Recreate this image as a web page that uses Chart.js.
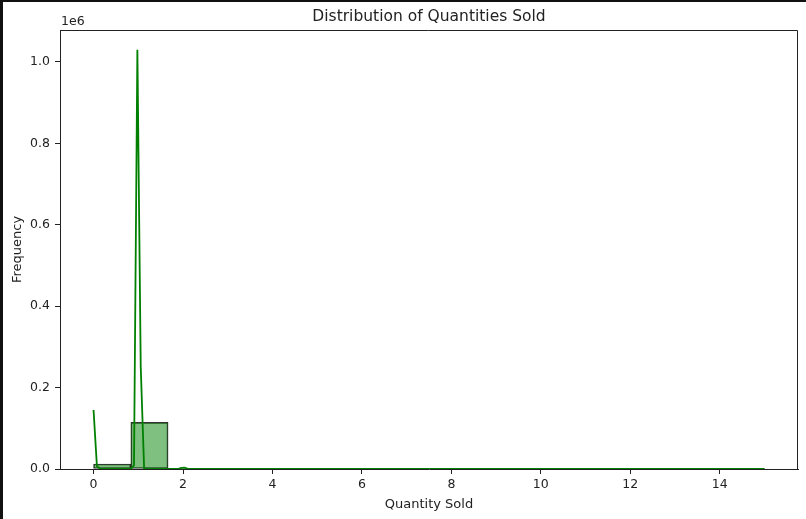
<!DOCTYPE html>
<html>
<head>
<meta charset="utf-8">
<script src="https://cdn.jsdelivr.net/npm/chart.js@4.4.0/dist/chart.umd.min.js"></script>
<style>
  html, body { margin: 0; padding: 0; background: #fff; }
  #wrap { position: relative; width: 806px; height: 519px; }
</style>
</head>
<body>
<div id="wrap"><canvas id="hist"></canvas></div>
<script>
// histogram: 18 bins between 0 and 15 (bin width 0.8333)
const binCenters = [0.4167, 1.25, 2.0833, 2.9167, 3.75, 4.5833, 5.4167, 6.25, 7.0833,
                    7.9167, 8.75, 9.5833, 10.4167, 11.25, 12.0833, 12.9167, 13.75, 14.5833];
const binCounts = [12300, 114700, 600, 250, 120, 60, 40, 30, 20, 15, 10, 8, 6, 5, 4, 3, 2, 3];

// kde line, scaled to counts (only the grid points that are not ~0)
const kdeX = [0, 0.0754, 0.1508, 0.8291, 0.9045, 0.9799, 1.0553, 1.1307, 1.2060,
              1.8844, 1.9598, 2.0352, 2.1106, 2.1859, 15];
const kdeY = [145000, 7000, 0, 0, 9000, 1030000, 250000, 1500, 0,
              0, 3000, 3500, 300, 0, 0];

// axes
const xTicks = [0, 2, 4, 6, 8, 10, 12, 14];
const yTicks = [0, 200000, 400000, 600000, 800000, 1000000];
const xRange = [-0.75, 15.75];
const yRange = [0, 1078600];

const inkColor = '#222';
const fontFamily = '"DejaVu Sans", sans-serif';

// titre, "1e6", cadre et bord noir de la capture
const extras = {
    id: 'extras',
    afterDraw(chart) {
        const c = chart.ctx;
        const a = chart.chartArea;
        c.save();
        c.strokeStyle = inkColor;
        c.lineWidth = 1;
        c.beginPath();
        c.moveTo(a.left, a.top + 0.5);
        c.lineTo(a.right - 0.5, a.top + 0.5);
        c.lineTo(a.right - 0.5, a.bottom);
        c.stroke();

        c.fillStyle = inkColor;
        c.textBaseline = 'middle';
        c.textAlign = 'center';
        c.font = '15.5px ' + fontFamily;
        c.fillText('Distribution of Quantities Sold', (a.left + a.right) / 2, 17);

        c.textAlign = 'left';
        c.font = '12.5px ' + fontFamily;
        c.fillText('1e6', a.left + 1, 22);

        c.fillStyle = '#111';
        c.fillRect(0, 0, 3, chart.height);
        c.fillRect(0, 0, chart.width, 2);
        c.restore();
    }
};

new Chart(document.getElementById('hist'), {
    type: 'bar',
    data: {
        datasets: [
            {
                type: 'line',
                data: kdeX.map((x, i) => ({ x: x, y: kdeY[i] })),
                borderColor: 'rgb(0,128,0)',
                borderWidth: 1.8,
                pointRadius: 0,
                tension: 0,
                fill: false,
                order: 0
            },
            {
                type: 'bar',
                data: binCenters.map((x, i) => ({ x: x, y: binCounts[i] })),
                backgroundColor: 'rgba(0,128,0,0.5)',
                borderColor: 'rgba(0,0,0,0.8)',
                borderWidth: 1,
                borderSkipped: false,
                barPercentage: 1,
                categoryPercentage: 1,
                order: 1
            }
        ]
    },
    options: {
        responsive: true,
        maintainAspectRatio: false,
        animation: false,
        layout: { padding: { left: 0, right: 8, top: 30, bottom: 0 } },
        plugins: {
            legend: { display: false },
            title: { display: false },
            tooltip: { enabled: false }
        },
        scales: {
            x: {
                type: 'linear',
                offset: false,
                min: xRange[0],
                max: xRange[1],
                afterBuildTicks: s => { s.ticks = xTicks.map(v => ({ value: v })); },
                afterFit: s => { s.height = 50; },
                grid: { offset: false, drawOnChartArea: false, tickLength: 5, color: inkColor },
                border: { display: true, color: inkColor, width: 1 },
                ticks: {
                    color: inkColor,
                    padding: 3,
                    maxRotation: 0,
                    font: { family: fontFamily, size: 12.5 },
                    callback: v => String(v)
                },
                title: {
                    display: true,
                    text: 'Quantity Sold',
                    color: inkColor,
                    font: { family: fontFamily, size: 13 },
                    padding: { top: 0, bottom: 7 }
                }
            },
            y: {
                type: 'linear',
                min: yRange[0],
                max: yRange[1],
                afterBuildTicks: s => { s.ticks = yTicks.map(v => ({ value: v })); },
                afterFit: s => { s.width = 60; },
                grid: { drawOnChartArea: false, tickLength: 5, color: inkColor },
                border: { display: true, color: inkColor, width: 1 },
                ticks: {
                    color: inkColor,
                    padding: 5,
                    font: { family: fontFamily, size: 12.5 },
                    callback: v => (v / 1e6).toFixed(1)
                },
                title: {
                    display: true,
                    text: 'Frequency',
                    color: inkColor,
                    font: { family: fontFamily, size: 13 },
                    padding: { top: 10, bottom: 0 }
                }
            }
        }
    },
    plugins: [extras]
});
</script>
</body>
</html>
